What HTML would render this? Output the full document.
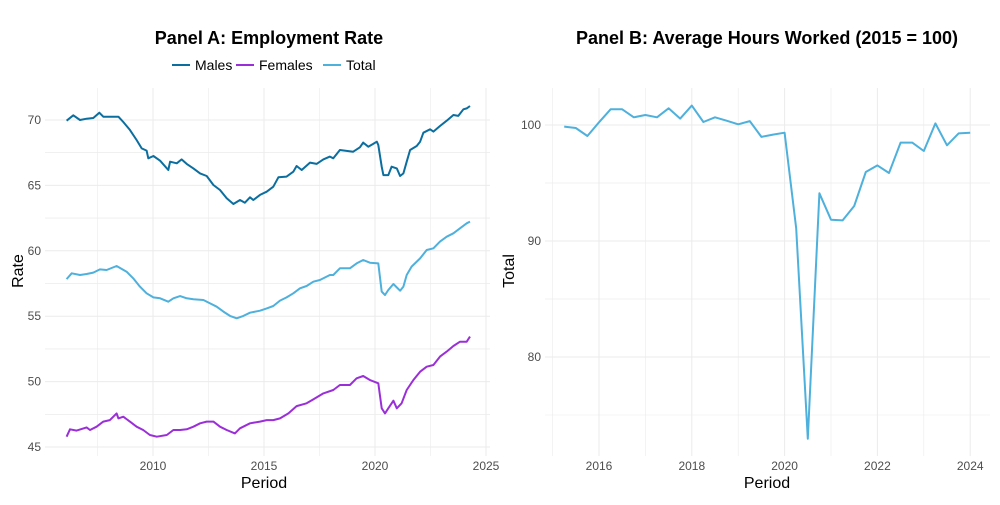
<!DOCTYPE html>
<html><head><meta charset="utf-8"><style>
body{margin:0;background:#fff;font-family:"Liberation Sans",sans-serif}
svg text{font-family:"Liberation Sans",sans-serif}
</style></head><body>
<svg id="c" width="1000" height="500" viewBox="0 0 1000 500">
<rect width="1000" height="500" fill="#fff"/>
<text x="269" y="44" text-anchor="middle" font-size="18" font-weight="bold" fill="#000">Panel A: Employment Rate</text>
<text x="767" y="44" text-anchor="middle" font-size="18" font-weight="bold" fill="#000">Panel B: Average Hours Worked (2015 = 100)</text>
<g>
<g><line x1="172" y1="65" x2="190" y2="65" stroke="#0b6e9f" stroke-width="2"/><text x="195" y="70" font-size="14" fill="#000">Males</text></g>
<g><line x1="236" y1="65" x2="254" y2="65" stroke="#9a2fd8" stroke-width="2"/><text x="259" y="70" font-size="14" fill="#000">Females</text></g>
<g><line x1="323" y1="65" x2="341" y2="65" stroke="#4eb0dc" stroke-width="2"/><text x="346" y="70" font-size="14" fill="#000">Total</text></g>
</g>
<g id="ga"></g>
<g id="gb"></g>
<text x="264" y="488" text-anchor="middle" font-size="16" fill="#000">Period</text>
<text x="767" y="488" text-anchor="middle" font-size="16" fill="#000">Period</text>
<text transform="translate(23,271) rotate(-90)" text-anchor="middle" font-size="16" fill="#000">Rate</text>
<text transform="translate(514,271) rotate(-90)" text-anchor="middle" font-size="16" fill="#000">Total</text>
</svg>
<script>
const maleYears=[2006.11,2006.41,2006.71,2007.01,2007.31,2007.58,2007.76,2008.06,2008.44,2008.66,2008.96,2009.26,2009.49,2009.71,2009.79,2010.02,2010.32,2010.69,2010.77,2011.07,2011.29,2011.52,2011.82,2012.12,2012.42,2012.72,2013.02,2013.32,2013.62,2013.92,2014.14,2014.37,2014.52,2014.82,2015.12,2015.42,2015.65,2016.02,2016.32,2016.47,2016.70,2017.07,2017.37,2017.67,2017.97,2018.12,2018.42,2019.02,2019.32,2019.47,2019.70,2019.92,2020.08,2020.15,2020.30,2020.38,2020.60,2020.75,2020.98,2021.13,2021.28,2021.43,2021.58,2021.88,2022.03,2022.18,2022.48,2022.63,2022.93,2023.23,2023.53,2023.75,2023.98,2024.13,2024.28];
const maleValues=[69.95,70.36,70.0,70.10,70.15,70.56,70.25,70.25,70.25,69.85,69.24,68.47,67.83,67.66,67.07,67.25,66.89,66.18,66.81,66.69,66.99,66.64,66.30,65.92,65.72,65.03,64.65,64.01,63.58,63.88,63.68,64.09,63.88,64.27,64.52,64.90,65.62,65.67,66.05,66.48,66.18,66.74,66.64,66.99,67.20,67.07,67.71,67.58,67.91,68.27,67.96,68.17,68.34,68.09,66.43,65.79,65.79,66.43,66.30,65.72,65.92,66.81,67.71,68.01,68.34,69.03,69.29,69.11,69.54,69.95,70.38,70.31,70.82,70.89,71.07];
const totalYears=[2006.11,2006.34,2006.71,2007.01,2007.31,2007.61,2007.91,2008.36,2008.81,2009.11,2009.41,2009.71,2010.02,2010.32,2010.69,2010.92,2011.22,2011.52,2011.82,2012.27,2012.57,2012.87,2013.17,2013.47,2013.77,2014.07,2014.37,2014.82,2015.12,2015.42,2015.72,2016.02,2016.32,2016.62,2016.92,2017.22,2017.52,2017.97,2018.12,2018.42,2018.87,2019.17,2019.47,2019.77,2020.15,2020.30,2020.45,2020.60,2020.83,2021.13,2021.28,2021.43,2021.65,2022.03,2022.33,2022.63,2022.93,2023.23,2023.53,2023.83,2024.13,2024.28];
const totalValues=[57.84,58.28,58.15,58.23,58.33,58.58,58.53,58.84,58.40,57.90,57.26,56.75,56.44,56.37,56.11,56.37,56.54,56.37,56.29,56.24,55.98,55.73,55.35,55.02,54.84,55.02,55.27,55.42,55.60,55.78,56.19,56.44,56.75,57.13,57.31,57.64,57.77,58.15,58.15,58.66,58.66,59.04,59.30,59.09,59.04,56.88,56.62,57.00,57.46,56.95,57.26,58.15,58.79,59.42,60.06,60.19,60.70,61.08,61.34,61.72,62.10,62.23];
const femaleYears=[2006.11,2006.26,2006.56,2007.01,2007.16,2007.46,2007.76,2008.06,2008.36,2008.44,2008.66,2008.96,2009.26,2009.56,2009.86,2010.17,2010.62,2010.92,2011.22,2011.52,2011.82,2012.12,2012.42,2012.72,2013.02,2013.32,2013.69,2013.92,2014.37,2014.82,2015.12,2015.42,2015.72,2016.10,2016.47,2016.92,2017.22,2017.67,2018.12,2018.42,2018.87,2019.17,2019.47,2019.77,2020.15,2020.30,2020.45,2020.60,2020.83,2020.98,2021.20,2021.43,2021.73,2022.03,2022.33,2022.63,2022.93,2023.23,2023.53,2023.83,2024.13,2024.28];
const femaleValues=[45.79,46.35,46.25,46.50,46.30,46.55,46.94,47.06,47.57,47.19,47.32,46.94,46.55,46.30,45.92,45.79,45.92,46.30,46.30,46.35,46.55,46.81,46.94,46.94,46.55,46.30,46.04,46.43,46.81,46.94,47.06,47.06,47.19,47.57,48.13,48.34,48.64,49.10,49.36,49.74,49.74,50.25,50.43,50.12,49.87,47.96,47.57,47.96,48.54,47.96,48.34,49.36,50.12,50.76,51.14,51.27,51.91,52.29,52.72,53.05,53.05,53.44];
const hoursStart=2015.25;
const hoursValues=[99.86,99.74,99.05,100.23,101.35,101.35,100.66,100.86,100.66,101.44,100.55,101.67,100.26,100.66,100.37,100.06,100.34,98.97,99.17,99.34,91.09,72.96,94.11,91.84,91.78,93.02,95.95,96.52,95.86,98.48,98.48,97.76,100.14,98.25,99.28,99.34];
const aXTicks=[2010,2015,2020,2025];
const aYTicks=[45,50,55,60,65,70];
const bXTicks=[2016,2018,2020,2022,2024];
const bYTicks=[80,90,100];

const NS="http://www.w3.org/2000/svg";
function mk(p,t,a){const e=document.createElementNS(NS,t);for(const k in a)e.setAttribute(k,a[k]);p.appendChild(e);return e;}
const axA={x:y=>153+(y-2010)*22.2,y:v=>447-(v-45)*13.08,l:45,r:490,t:88,b:456};
const axB={x:y=>599+(y-2016)*46.4,y:v=>125-(v-100)*11.6,l:545,r:990,t:88,b:456};
function grid(g,ax,xt,yt,xstep,ystep,xfmt){
  const xs=[...xt];for(let i=0;i<xt.length;i++){xs.push(xt[i]-xstep/2);} 
  const ys=[...yt];for(let i=0;i<yt.length;i++){ys.push(yt[i]-ystep/2);ys.push(yt[i]+ystep/2);}
  ys.forEach((v,i)=>{const y=ax.y(v);if(y<ax.t||y>ax.b)return;const ln=mk(g,'line',{x1:ax.l,x2:ax.r,y1:y,y2:y,stroke:'#ebebeb','stroke-width':i<yt.length?1:0.6});
    });
  xs.forEach((v,i)=>{const x=ax.x(v);if(x<ax.l-1||x>ax.r+1)return;const ln=mk(g,'line',{x1:x,x2:x,y1:ax.t,y2:ax.b,stroke:'#ebebeb','stroke-width':i<xt.length?1:0.6});
    });
  yt.forEach(v=>{const t=mk(g,'text',{x:ax.l-4,y:ax.y(v)+4,'text-anchor':'end','font-size':12,fill:'#4d4d4d'});t.textContent=v;
    });
  xt.forEach(v=>{const t=mk(g,'text',{x:ax.x(v),y:ax.b+14,'text-anchor':'middle','font-size':12,fill:'#4d4d4d'});t.textContent=v;
    });
}
function line(g,ax,xs,vs,color,name){
  const d=xs.map((x,i)=>(i?'L':'M')+ax.x(x).toFixed(1)+','+ax.y(vs[i]).toFixed(1)).join('');
  const p=mk(g,'path',{d:d,fill:'none',stroke:color,'stroke-width':2,'stroke-linejoin':'round'});
  
  
}
const ga=document.getElementById('ga'),gb=document.getElementById('gb');
grid(ga,axA,aXTicks,aYTicks,5,5);
grid(gb,axB,bXTicks,bYTicks,2,10);
line(ga,axA,maleYears,maleValues,'#0b6e9f','males-line');
line(ga,axA,totalYears,totalValues,'#4eb0dc','total-line');
line(ga,axA,femaleYears,femaleValues,'#9a2fd8','females-line');
line(gb,axB,hoursValues.map((v,i)=>hoursStart+i*0.25),hoursValues,'#4eb0dc','hours-line');
</script>
</body></html>
